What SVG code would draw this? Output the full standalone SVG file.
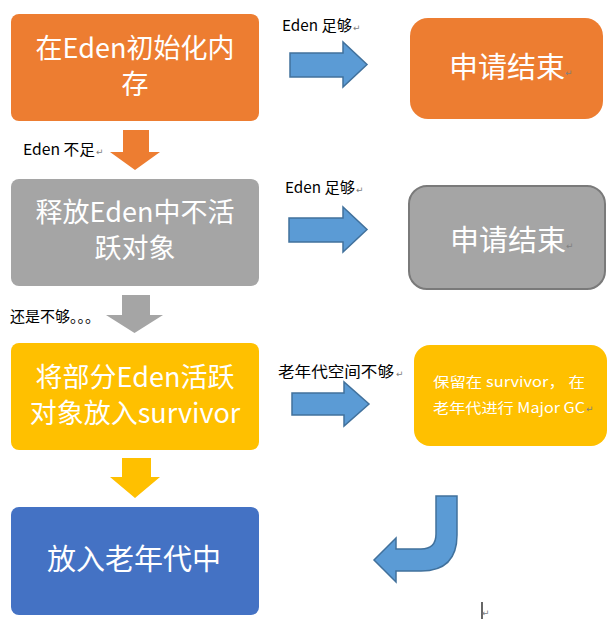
<svg xmlns="http://www.w3.org/2000/svg" width="616" height="633" viewBox="0 0 616 633">
<style>
.t{font-family:"Noto Sans CJK SC","Liberation Sans",sans-serif;fill:#fff;text-anchor:middle}
.big{font-size:27px}
.lbl{font-family:"Noto Sans CJK SC","Liberation Sans",sans-serif;font-size:15px;fill:#000}
.ret{font-family:"DejaVu Sans",sans-serif;font-size:9px;fill:#808080}
.arr{fill:#5B9BD5;stroke:#41719C;stroke-width:1.5}
</style>
<rect width="616" height="633" fill="#fff"/>
<g id="connectors">
<path class="arr" d="M290,53 H343 V42 L367,64.5 L343,87 V77 H290 Z"/>
<path class="arr" d="M289,218 H343 V207 L367,229.5 L343,252 V242 H289 Z"/>
<path class="arr" d="M292,393 H344 V382 L369,404 L344,426 V415 H292 Z"/>
<path d="M123,130 H149 V152 H160 L135,170 L110,152 H123 Z" fill="#ED7D31"/>
<path d="M122,295 H150 V315 H163 L134.5,333 L106,315 H122 Z" fill="#A5A5A5"/>
<path d="M122,458 H151 V477 H160 L135,498 L110,477 H122 Z" fill="#FFC000"/>
<path class="arr" d="M436,496 H457 V535 Q457,571 421,571 H396 V582 L374,560 L396,538 V549 H421 Q436,549 436,534 Z"/>
</g>
<g id="n1">
<rect x="11" y="14" width="248" height="107" rx="8" fill="#ED7D31"/>
<text class="t big" x="135" y="58">在Eden初始化内</text>
<text class="t big" x="135" y="94">存</text>
</g>
<g id="n2">
<rect x="410" y="18" width="193" height="101" rx="18" fill="#ED7D31"/>
<text class="t" x="507" y="78" font-size="29">申请结束</text>
<text class="ret" x="565" y="76">↵</text>
</g>
<g id="n3">
<rect x="11" y="179" width="248" height="107" rx="8" fill="#A5A5A5"/>
<text class="t big" x="135" y="222">释放Eden中不活</text>
<text class="t big" x="135" y="258">跃对象</text>
</g>
<g id="n4">
<rect x="409" y="186" width="196" height="103" rx="18" fill="#A5A5A5" stroke="#7A7A7A" stroke-width="2"/>
<text class="t" x="508" y="251" font-size="29">申请结束</text>
<text class="ret" x="566" y="249">↵</text>
</g>
<g id="n5">
<rect x="11" y="343" width="248" height="107" rx="8" fill="#FFC000"/>
<text class="t big" x="135" y="387">将部分Eden活跃</text>
<text class="t big" x="135" y="423">对象放入survivor</text>
</g>
<g id="n6">
<rect x="414" y="345" width="193" height="101" rx="16" fill="#FFC000"/>
<text class="t" x="509" y="387" font-size="14" textLength="152" lengthAdjust="spacingAndGlyphs">保留在 survivor， 在</text>
<text class="t" x="509" y="413" font-size="14" textLength="152" lengthAdjust="spacingAndGlyphs">老年代进行 Major GC</text>
<text class="ret" x="586" y="412">↵</text>
</g>
<g id="n7">
<rect x="11" y="507" width="248" height="108" rx="8" fill="#4472C4"/>
<text class="t" x="134" y="570" font-size="29">放入老年代中</text>
</g>
<g id="labels">
<text class="lbl" x="282" y="31" textLength="70" lengthAdjust="spacingAndGlyphs">Eden 足够</text>
<text class="ret" x="353" y="31">↵</text>
<text class="lbl" x="285" y="193" textLength="70" lengthAdjust="spacingAndGlyphs">Eden 足够</text>
<text class="ret" x="356" y="193">↵</text>
<text class="lbl" x="23" y="155" textLength="72" lengthAdjust="spacingAndGlyphs">Eden 不足</text>
<text class="ret" x="96" y="155">↵</text>
<text class="lbl" x="10" y="322">还是不够。。。</text>
<text class="lbl" x="278" y="377" font-size="16" textLength="116" lengthAdjust="spacingAndGlyphs">老年代空间不够</text>
<text class="ret" x="396" y="377">↵</text>
<line x1="482" y1="602" x2="482" y2="619" stroke="#000" stroke-width="1.2"/>
<text class="ret" x="482" y="616">↵</text>
</g>
</svg>
